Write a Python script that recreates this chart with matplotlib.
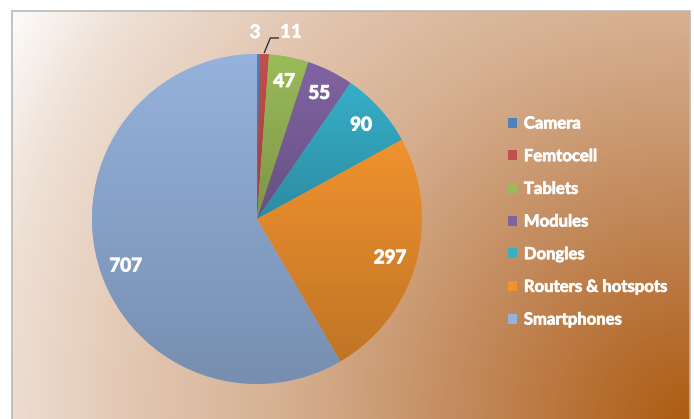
import numpy as np
import matplotlib
matplotlib.use("Agg")
import matplotlib.pyplot as plt
import matplotlib.patheffects as pe
from matplotlib import font_manager
from matplotlib.font_manager import FontProperties
from matplotlib.patches import Rectangle

# data
categories = ["Camera", "Femtocell", "Tablets", "Modules", "Dongles",
              "Routers & hotspots", "Smartphones"]
values = [3, 11, 47, 55, 90, 297, 707]
colors = ["#4f81bd", "#c0504d", "#9bbb59", "#8064a2", "#36afc8",
          "#f0922f", "#95b2dc"]

# find a real bold file (Calibri-like look)
bold_file = None
for name in ["Lato", "Open Sans", "Noto Sans", "Liberation Sans"]:
    for f in font_manager.fontManager.ttflist:
        if f.name == name and f.weight == 700 and f.style == "normal" and "Bold" in f.fname \
                and "Italic" not in f.fname and "Semi" not in f.fname and "Extra" not in f.fname:
            bold_file = f.fname
            break
    if bold_file:
        break


def bold(size):
    if bold_file:
        return FontProperties(fname=bold_file, size=size)
    return FontProperties(family="DejaVu Sans", weight="bold", size=size)


thick = [pe.withStroke(linewidth=0.7, foreground="white")]
thin = [pe.withStroke(linewidth=0.35, foreground="white")]

W, H = 694, 419
fig = plt.figure(figsize=(W / 100, H / 100), dpi=100)
fig.patch.set_facecolor("white")

# chart area background: radial gradient from the bottom-right corner
left, top, right = 12, 11, 690
bg = fig.add_axes([left / W, 0, (right - left) / W, (H - top) / H])
xx, yy = np.meshgrid(np.arange(left, right) + 0.5, np.arange(top, H) + 0.5)
d = np.hypot(xx - 690, yy - 425) / 790.0
stops = [0.0, 0.12, 0.3, 0.5, 0.7, 0.88, 1.0]
rgb = [(172, 92, 16), (182, 110, 48), (196, 140, 95), (213, 174, 142),
       (226, 198, 176), (238, 224, 213), (253, 251, 249)]
img = np.zeros(xx.shape + (3,))
for c in range(3):
    img[..., c] = np.interp(d, stops, [p[c] for p in rgb]) / 255.0
bg.imshow(img, aspect="auto", interpolation="bilinear")
bg.axis("off")
fig.patches.append(Rectangle((left / W - 0.0005, -0.05), (right - left) / W, (H - top) / H + 0.05,
                             transform=fig.transFigure, fill=False,
                             edgecolor="#b9b9b9", linewidth=1.2, zorder=5))

# pie
cx, cy, R = 257, 219, 165
ax = fig.add_axes([(cx - R) / W, (H - cy - R) / H, 2 * R / W, 2 * R / H])
ax.axis("off")

wedges, _ = ax.pie(values, colors=colors, startangle=90, counterclock=False,
                   radius=1.0, wedgeprops=dict(linewidth=0))

# vertical shading inside each slice
for w, col in zip(wedges, colors):
    base = np.array(matplotlib.colors.to_rgb(col))
    ext = w.get_path().get_extents()
    t = np.linspace(0, 1, 64)[:, None, None]
    grad = np.repeat(base * (1.0 - 0.2 * t), 2, axis=1)
    im = ax.imshow(grad, extent=[ext.x0, ext.x1, ext.y0, ext.y1], origin="upper",
                   aspect="auto", interpolation="bilinear", zorder=2)
    im.set_clip_path(w)
ax.set_xlim(-1, 1)
ax.set_ylim(-1, 1)

# value labels
lab_pos = {2: (0.85, 0), 3: (0.85, 0), 4: (0.85, 0), 5: (0.84, -0.8), 6: (0.845, 4.5)}
lab_font = dict(color="white", fontproperties=bold(13.5), zorder=6, path_effects=thick)
out_font = dict(color="white", fontproperties=bold(13.5), zorder=6, path_effects=thin)
for i, (w, v) in enumerate(zip(wedges, values)):
    mid = np.deg2rad((w.theta1 + w.theta2) / 2)
    if i in lab_pos:
        r, dth = lab_pos[i]
        a = mid + np.deg2rad(dth)
        ax.text(r * np.cos(a), r * np.sin(a), str(v), ha="center", va="center", **lab_font)
    elif i == 0:
        ax.text(np.cos(mid) - 0.02, 1.13, str(v), ha="center", va="center", **out_font)
    else:
        x0, y0 = 1.01 * np.cos(mid), 1.01 * np.sin(mid)
        ax.plot([x0, x0 + 0.036, x0 + 0.085], [y0, 1.097, 1.097], color="#222222",
                linewidth=0.9, clip_on=False, zorder=6)
        ax.text(x0 + 0.095, 1.133, str(v), ha="left", va="center", **out_font)

# legend
leg = fig.legend(wedges, categories, loc="center left",
                 bbox_to_anchor=(508 / W, 1 - 221.5 / H), frameon=False,
                 prop=bold(12), labelcolor="white",
                 handlelength=0.55, handleheight=0.55, handletextpad=0.4,
                 labelspacing=1.0, borderpad=0, borderaxespad=0)
for txt in leg.get_texts():
    txt.set_path_effects([pe.withStroke(linewidth=0.5, foreground="white")])

fig.savefig("out.png", dpi=100)
